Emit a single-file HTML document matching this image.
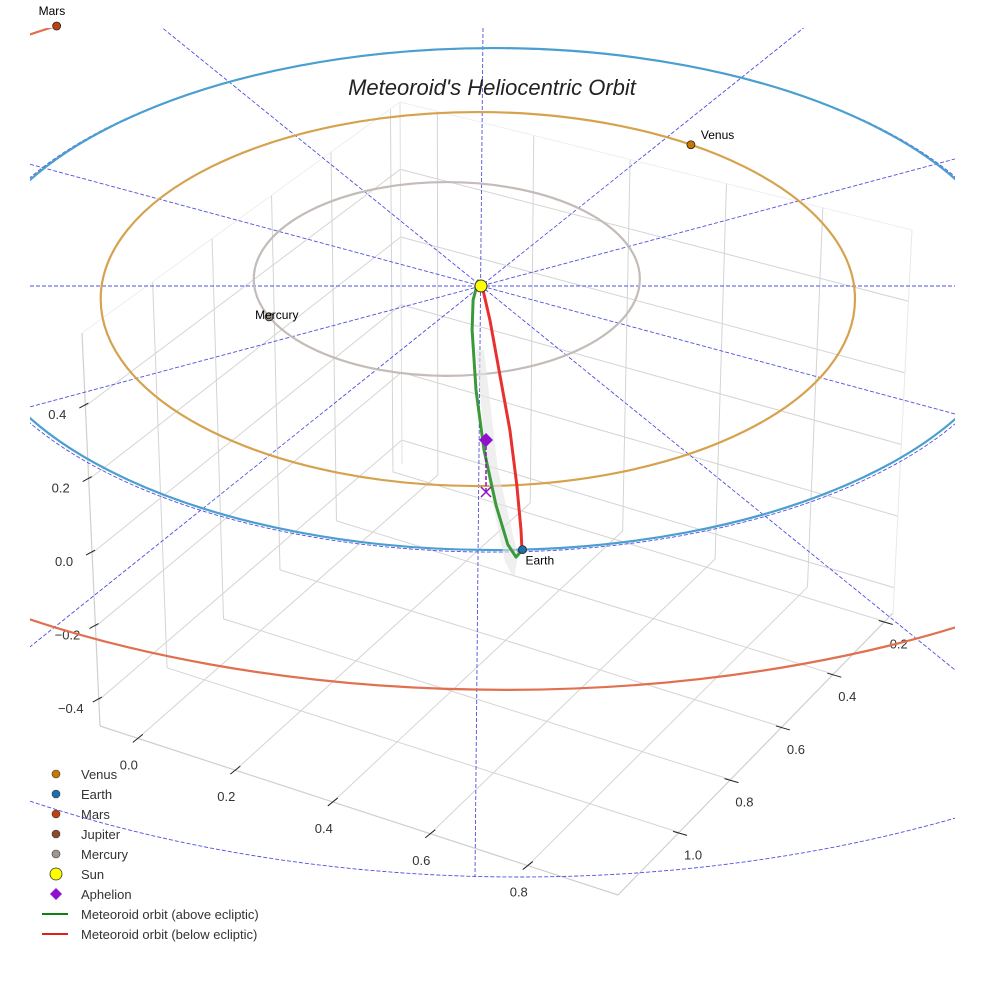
<!DOCTYPE html>
<html><head><meta charset="utf-8"><style>
html,body{margin:0;padding:0;background:#fff;}
svg{display:block;font-family:"Liberation Sans",sans-serif;}
</style></head><body>
<svg id="chart" width="984" height="984" viewBox="0 0 984 984">
<defs><clipPath id="clip"><rect x="30" y="28" width="925" height="956"/></clipPath></defs>
<g id="box"></g>
<g id="plot" clip-path="url(#clip)"></g>
<g id="ovl"></g>
<text x="492" y="95" text-anchor="middle" font-size="22" font-style="italic" fill="#222">Meteoroid's Heliocentric Orbit</text>
</svg>
<script>
// ---- data ----
const xTicks = [0.0, 0.2, 0.4, 0.6, 0.8];
const yTicks = [1.0, 0.8, 0.6, 0.4, 0.2];
const zTicks = [-0.4, -0.2, 0.0, 0.2, 0.4];
const orbitNames = ["Mercury", "Venus", "Earth", "Mars"];
const orbitRadius = [0.367, 0.717, 1.0, 1.525];
const orbitRadiusY = [0.386, 0.745, 1.0, 1.446];
const orbitCenterX = [-0.065, -0.006, 0.023, 0.046];
const orbitCenterY = [-0.028, 0.052, 0.052, 0.163];
const planetAngle = [157, -55.6, 86.8, -124];
const raySlopes = [0.81, 0.27, -0.268, -0.80];
const meteorAbove = [[0.002,-0.005],[-0.0057,-0.02],[-0.015,0.056],[-0.017,0.175],[-0.0095,0.414],[0.0057,0.653],[0.0285,0.873],[0.051,1.03],[0.0665,1.08],[0.078,1.052]];
const meteorBelow = [[0.002,0.0],[0.017,0.135],[0.036,0.355],[0.055,0.574],[0.068,0.793],[0.076,0.972],[0.078,1.052]];

const NS="http://www.w3.org/2000/svg";
function mk(parent,tag,attrs){const e=document.createElementNS(NS,tag);for(const k in attrs)e.setAttribute(k,attrs[k]);parent.appendChild(e);return e;}
const box=document.getElementById('box'),plot=document.getElementById('plot'),ov=document.getElementById('ovl');

// ---- box geometry ----
const A=[100,726],B=[618,895],C=[893,613],D=[402,464];
const At=[82,333],Dt=[400,102],Ct=[912,230];
const lerp=(p,q,t)=>[p[0]+(q[0]-p[0])*t,p[1]+(q[1]-p[1])*t];
const fx=v=>0.073+v*0.941;
const fy=v=>0.222+(1.0-v)/0.2*0.187;
const fz=v=>0.066+(v+0.4)/0.2*0.187;
function line(g,p,q,stroke,w,name){const l=mk(g,'line',{x1:p[0],y1:p[1],x2:q[0],y2:q[1],stroke:stroke,'stroke-width':w});

return l;}
xTicks.forEach(v=>{const t=fx(v);line(box,lerp(A,B,t),lerp(D,C,t),'#d4d4d4',1,'floor-grid-x');});
yTicks.forEach(v=>{const t=fy(v);line(box,lerp(B,C,t),lerp(A,D,t),'#d4d4d4',1,'floor-grid-y');});
yTicks.forEach(v=>{const t=fy(v);line(box,lerp(A,D,t),lerp(At,Dt,t),'#d4d4d4',1,'wall-grid-y');});
xTicks.forEach(v=>{const t=fx(v);line(box,lerp(D,C,t),lerp(Dt,Ct,t),'#d4d4d4',1,'wall-grid-x');});
zTicks.forEach(v=>{const t=fz(v);const pA=lerp(A,At,t),pD=lerp(D,Dt,t),pC=lerp(C,Ct,t);
 line(box,pA,pD,'#d4d4d4',1,'wall-grid-z');line(box,pD,pC,'#d4d4d4',1,'wall-grid-z');});
line(box,A,B,'#cfcfcf',1.2,'x-axis-line');line(box,B,C,'#cfcfcf',1.2,'y-axis-line');line(box,A,At,'#cfcfcf',1.2,'z-axis-line');
line(box,D,Dt,'#e0e0e0',1,'back-edge');line(box,C,Ct,'#e8e8e8',1,'right-edge');
line(box,At,Dt,'#eeeeee',1,'top-edge');line(box,Dt,Ct,'#eeeeee',1,'top-edge');
xTicks.forEach(v=>{const p=lerp(A,B,fx(v));line(box,[p[0]-5,p[1]+4],[p[0]+5,p[1]-4],'#222',1,'x-tick');
 const t=mk(box,'text',{x:p[0]-9,y:p[1]+31,'font-size':13,fill:'#333','text-anchor':'middle'});t.textContent=v.toFixed(1);
 
 });
yTicks.forEach(v=>{const p=lerp(B,C,fy(v));line(box,[p[0]-6,p[1]-1],[p[0]+8,p[1]+3],'#222',1,'y-tick');
 const t=mk(box,'text',{x:p[0]+14,y:p[1]+27,'font-size':13,fill:'#333','text-anchor':'middle'});t.textContent=v.toFixed(1);
 
 });
zTicks.forEach(v=>{const p=lerp(A,At,fz(v));line(box,[p[0]-6,p[1]+2],[p[0]+3,p[1]-3],'#222',1,'z-tick');
 const t=mk(box,'text',{x:p[0]-28,y:p[1]+13,'font-size':13,fill:'#333','text-anchor':'middle'});t.textContent=(v<0?'\u2212':'')+Math.abs(v).toFixed(1);
 
 });

// ---- ecliptic projection ----
const SUN=[481,286],SX=526,SY=251;
const P=(u,w)=>[SUN[0]+u*SX,SUN[1]+w*SY];
const de1=mk(plot,'ellipse',{cx:P(0.023,0)[0],cy:P(0,0.057)[1],rx:SX*1.008,ry:SY*1.003,fill:'none',stroke:'#5050e0','stroke-width':0.9,'stroke-dasharray':'4 2'});


const de2=mk(plot,'ellipse',{cx:520,cy:286,rx:1000,ry:591,fill:'none',stroke:'#5050e0','stroke-width':0.9,'stroke-dasharray':'4 2'});


{const l=line(plot,[483,28],[475,877],'#5050e0',0.9,'ecliptic-ray');l.setAttribute('stroke-dasharray','4 2');}
{const l=line(plot,[0,286],[984,286],'#5050e0',0.9,'ecliptic-ray');l.setAttribute('stroke-dasharray','4 2');}
raySlopes.forEach(s=>{const L=700;
 const l=line(plot,[SUN[0]-L,SUN[1]-s*L],[SUN[0]+L,SUN[1]+s*L],'#5050e0',0.9,'ecliptic-ray');l.setAttribute('stroke-dasharray','4 2');});
const orbitColors=['#c4bcb8','#d6a24e','#4a9fd0','#e07050'];
const planetColors=['#a09890','#c87800','#1f6fb0','#c04010'];
orbitNames.forEach((n,i)=>{const c=P(orbitCenterX[i],orbitCenterY[i]);
 const e=mk(plot,'ellipse',{cx:c[0],cy:c[1],rx:orbitRadius[i]*SX,ry:orbitRadiusY[i]*SY,fill:'none',stroke:orbitColors[i],'stroke-width':2.2});
 
 });
const stem=mk(plot,'path',{d:'M476,350 L484,350 L498,470 L518,556 L514,578 L505,562 L488,480 Z',fill:'#e4e4e4',opacity:0.6});


function mpath(pts){return pts.map((p,i)=>{const q=P(p[0],p[1]);return (i?'L':'M')+q[0].toFixed(1)+','+q[1].toFixed(1);}).join(' ');}
const g1=mk(plot,'path',{d:mpath(meteorAbove),fill:'none',stroke:'#3a9a3a','stroke-width':3,'stroke-linejoin':'round','stroke-linecap':'round'});


const r1=mk(plot,'path',{d:mpath(meteorBelow),fill:'none',stroke:'#e83030','stroke-width':3,'stroke-linejoin':'round','stroke-linecap':'round'});


const ap=mk(plot,'line',{x1:486,y1:440,x2:486,y2:492,stroke:'#9010c0','stroke-width':1.5,'stroke-dasharray':'4 2'});


const apx=mk(plot,'path',{d:'M481,487 L491,497 M491,487 L481,497',stroke:'#9010c0','stroke-width':1.5});


const apd=mk(plot,'polygon',{points:'486,433 493,440 486,447 479,440',fill:'#9010d0'});


const sun=mk(plot,'circle',{cx:SUN[0],cy:SUN[1],r:6,fill:'#ffff00',stroke:'#333','stroke-width':1});


orbitNames.forEach((n,i)=>{const a=planetAngle[i]*Math.PI/180;
 const p=P(orbitCenterX[i]+orbitRadius[i]*Math.cos(a),orbitCenterY[i]+orbitRadiusY[i]*Math.sin(a));
 const c=mk(ov,'circle',{cx:p[0],cy:p[1],r:4,fill:planetColors[i],stroke:'#222','stroke-width':0.8});
 
 
 const off={Mercury:[-14,2],Venus:[10,-6],Earth:[3,15],Mars:[-18,-11]}[n];
 const t=mk(ov,'text',{x:p[0]+off[0],y:p[1]+off[1],'font-size':12,fill:'#000'});t.textContent=n;
 
 });
const legendLabels=['Venus','Earth','Mars','Jupiter','Mercury','Sun','Aphelion','Meteoroid orbit (above ecliptic)','Meteoroid orbit (below ecliptic)'];
const legendColors=['#c87800','#1f6fb0','#c04010','#8b4a2b','#a09890','#ffff00','#9010d0','#108010','#e02020'];
const lg=mk(ov,'g',{});
legendLabels.forEach((lab,i)=>{const y=774+i*20;let m;
 if(i<5)m=mk(lg,'circle',{cx:56,cy:y,r:4,fill:legendColors[i],stroke:'#333','stroke-width':0.6});
 else if(i===5)m=mk(lg,'circle',{cx:56,cy:y,r:6,fill:legendColors[i],stroke:'#333','stroke-width':0.8});
 else if(i===6)m=mk(lg,'polygon',{points:`56,${y-6} 62,${y} 56,${y+6} 50,${y}`,fill:legendColors[i]});
 else m=mk(lg,'line',{x1:42,y1:y,x2:68,y2:y,stroke:legendColors[i],'stroke-width':2});
 
 
 const t=mk(lg,'text',{x:81,y:y+5,'font-size':13,fill:'#333'});t.textContent=lab;
 
 });
</script>
</body></html>
